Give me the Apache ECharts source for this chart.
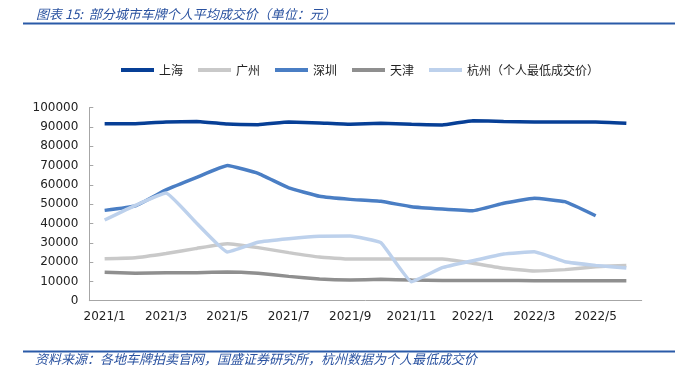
<!DOCTYPE html>
<html>
<head>
<meta charset="utf-8">
<script src="https://cdn.jsdelivr.net/npm/echarts@6/dist/echarts.min.js"></script>
<style>html,body{margin:0;padding:0;background:#fff;}#c{width:675px;height:387px;}</style>
</head>
<body>
<div id="c"></div>
<script>
const categories = ['2021/1','2021/2','2021/3','2021/4','2021/5','2021/6','2021/7','2021/8','2021/9','2021/10','2021/11','2021/12','2022/1','2022/2','2022/3','2022/4','2022/5','2022/6'];
const shanghai = [91700,91700,92600,92900,91500,91200,92600,92100,91400,91900,91400,91000,93300,92800,92600,92600,92600,91900];
const guangzhou = [21800,22300,24500,27100,29500,27500,24900,22600,21600,21600,21600,21600,19400,16800,15400,16100,17600,18300];
const shenzhen = [46800,49100,57400,63900,70000,66000,58500,54100,52500,51500,48700,47500,46600,50500,53100,51300,44000,null];
const tianjin = [14700,14200,14500,14500,14900,14200,12600,11200,10700,11100,10700,10500,10500,10500,10400,10400,10400,10400];
const hangzhou = [41800,49400,55800,40100,25200,30300,32100,33400,33500,30100,9800,17100,20700,24200,25400,20200,18300,16900];
const seriesNames = ['上海','广州','深圳','天津','杭州（个人最低成交价）'];
const yTicks = [0,10000,20000,30000,40000,50000,60000,70000,80000,90000,100000];

const colors = ['#073f96','#c9c9c9','#4a7ec4','#8f8f8f','#bdd1ec'];
const dataSets = [shanghai, guangzhou, shenzhen, tianjin, hangzhou];
const cjk = "'Noto Sans CJK SC', sans-serif";

const chart = echarts.init(document.getElementById('c'), null, {renderer:'canvas'});
chart.setOption({
  animation: false,
  color: colors,
  title: {
    text: '图表 15:  部分城市车牌个人平均成交价（单位：元）',
    left: 31, top: 3,
    textStyle: {fontFamily: cjk, fontStyle: 'italic', fontWeight: 'normal', fontSize: 13, color: '#2a52a0'}
  },
  graphic: [
    {type:'rect', shape:{x:23, y:22.5, width:652, height:2}, style:{fill:'#2a5aa8'}},
    {type:'rect', shape:{x:23, y:350.5, width:652, height:2}, style:{fill:'#2a5aa8'}},
    {type:'text', left:35, top:353, style:{text:'资料来源：各地车牌拍卖官网，国盛证券研究所，杭州数据为个人最低成交价', font:"italic 13px 'Noto Sans CJK SC'", fill:'#2a52a0'}}
  ],
  legend: {
    left: 116, top: 59,
    icon: 'rect', itemWidth: 33, itemHeight: 4, itemGap: 15,
    textStyle: {fontFamily: cjk, fontSize: 12, color: '#222'},
    data: seriesNames
  },
  grid: {left: 89.3, right: 33.3, top: 107.7, bottom: 86.3, containLabel: false},
  xAxis: {
    type: 'category', data: categories, boundaryGap: true,
    axisLine: {lineStyle: {color: '#a6a6a6', width: 1}},
    axisTick: {inside: true, length: 5, interval: 0, lineStyle: {color: '#a6a6a6'}},
    axisLabel: {interval: 1, margin: 10, fontFamily: 'DejaVu Sans', fontSize: 12, color: '#222'},
    splitLine: {show: false}
  },
  yAxis: {
    type: 'value', min: yTicks[0], max: yTicks[yTicks.length-1], interval: 10000,
    axisLine: {show: true, lineStyle: {color: '#a6a6a6', width: 1}},
    axisTick: {show: true, inside: true, length: 4, lineStyle: {color: '#a6a6a6'}},
    axisLabel: {margin: 11, fontFamily: 'DejaVu Sans', fontSize: 12, color: '#222', formatter: v => String(v)},
    splitLine: {show: false}
  },
  series: seriesNames.map((n, i) => ({
    name: n, type: 'line', data: dataSets[i], smooth: 0.1,
    showSymbol: false, symbol: 'none',
    lineStyle: {width: 3.5, color: colors[i]},
    itemStyle: {color: colors[i]},
    z: 2 + i
  }))
});
</script>
</body>
</html>
